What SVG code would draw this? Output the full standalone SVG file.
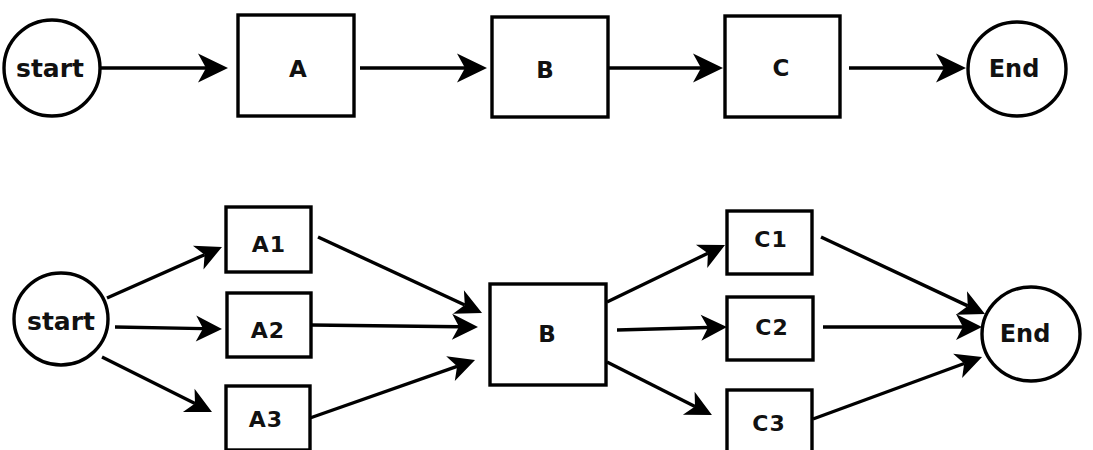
<svg xmlns="http://www.w3.org/2000/svg" width="1093" height="450" viewBox="0 0 1093 450">
<style>
.n{fill:#fff;stroke:#000;stroke-width:3.4}
.t{font-family:"DejaVu Sans",Verdana,sans-serif;font-weight:bold;fill:#111;text-anchor:middle}
.big{font-size:23px}
.st{font-size:25px}
.en{font-size:24px}
.sm{font-size:22px;letter-spacing:1px}
.e{stroke:#000;stroke-width:3.4;fill:none}
.top{marker-end:url(#ah)}
.bot{marker-end:url(#ah2)}
</style>
<defs>
<marker id="ah" markerUnits="userSpaceOnUse" viewBox="-10 -16 34 32" markerWidth="34" markerHeight="32" refX="0" refY="0" orient="auto">
<path d="M22,0 L-8,-14.5 L0,0 L-8,14.5 Z" fill="#000"/>
</marker>
<marker id="ah2" markerUnits="userSpaceOnUse" viewBox="-10 -16 34 32" markerWidth="34" markerHeight="32" refX="0" refY="0" orient="auto">
<path d="M19,0 L-7,-13 L0,0 L-7,13 Z" fill="#000"/>
</marker>
</defs>
<rect width="1093" height="450" fill="#fff"/>
<g id="connectors">
<line class="e top" x1="100" y1="68" x2="206" y2="68"/>
<line class="e top" x1="360" y1="68" x2="465" y2="68"/>
<line class="e top" x1="608" y1="68" x2="701" y2="68"/>
<line class="e top" x1="849" y1="68" x2="944" y2="68"/>
<line class="e bot" x1="107" y1="298" x2="204.6" y2="254.7"/>
<line class="e bot" x1="115" y1="327" x2="203" y2="328.6"/>
<line class="e bot" x1="102" y1="357" x2="195" y2="403.5"/>
<line class="e bot" x1="318" y1="237" x2="464.8" y2="305"/>
<line class="e bot" x1="311" y1="325" x2="459" y2="326.8"/>
<line class="e bot" x1="310" y1="418" x2="457.1" y2="366.3"/>
<line class="e bot" x1="607" y1="302" x2="707.9" y2="253.3"/>
<line class="e bot" x1="617" y1="330" x2="708" y2="327.5"/>
<line class="e bot" x1="607" y1="362" x2="695" y2="406.4"/>
<line class="e bot" x1="821" y1="237" x2="967.8" y2="305.9"/>
<line class="e bot" x1="823" y1="327" x2="963" y2="327"/>
<line class="e bot" x1="813" y1="419" x2="964.2" y2="363.5"/>
</g>
<g id="start1"><ellipse class="n" cx="52" cy="68" rx="48" ry="48"/><text class="t st" x="50" y="77">start</text></g>
<g id="A"><rect class="n" x="238" y="15" width="116" height="101"/><text class="t big" x="298" y="77">A</text></g>
<g id="B"><rect class="n" x="492" y="17" width="116" height="100"/><text class="t big" x="545" y="78">B</text></g>
<g id="C"><rect class="n" x="725" y="16" width="115" height="101"/><text class="t big" x="781" y="76">C</text></g>
<g id="End1"><ellipse class="n" cx="1017" cy="69" rx="49" ry="47"/><text class="t en" x="1014" y="77">End</text></g>
<g id="start2"><ellipse class="n" cx="61" cy="319" rx="47" ry="46"/><text class="t st" x="61" y="330">start</text></g>
<g id="A1"><rect class="n" x="226" y="207" width="85" height="65"/><text class="t sm" x="269" y="252">A1</text></g>
<g id="A2"><rect class="n" x="227" y="293" width="84" height="64"/><text class="t sm" x="268" y="338">A2</text></g>
<g id="A3"><rect class="n" x="226" y="386" width="84" height="64"/><text class="t sm" x="266" y="427">A3</text></g>
<g id="B2"><rect class="n" x="490" y="284" width="116" height="101"/><text class="t big" x="547" y="342">B</text></g>
<g id="C1"><rect class="n" x="727" y="211" width="85" height="63"/><text class="t sm" x="771" y="247">C1</text></g>
<g id="C2"><rect class="n" x="727" y="297" width="86" height="63"/><text class="t sm" x="772" y="335">C2</text></g>
<g id="C3"><rect class="n" x="727" y="390" width="85" height="63"/><text class="t sm" x="769" y="431">C3</text></g>
<g id="End2"><ellipse class="n" cx="1031" cy="334" rx="49" ry="47"/><text class="t en" x="1025" y="342">End</text></g>
</svg>
